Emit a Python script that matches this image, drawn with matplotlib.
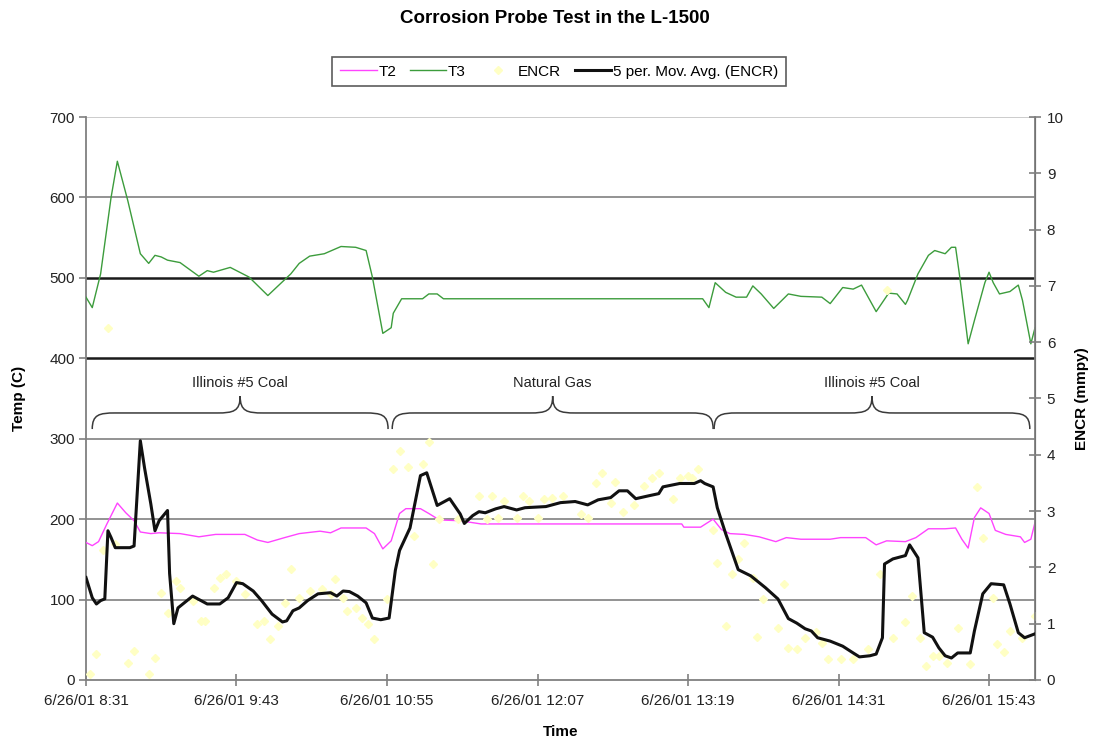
import matplotlib
matplotlib.use("Agg")
import matplotlib.pyplot as plt
from matplotlib.path import Path
from matplotlib.patches import PathPatch
from matplotlib.lines import Line2D

plt.rcParams['font.family'] = ['Liberation Sans', 'DejaVu Sans']

# ---- data (time in minutes after 6/26/01 8:31) ----
t3_time = [0, 3, 7, 12, 15, 20, 26, 30, 33, 36, 39, 45, 54, 58, 61, 69, 78, 87, 98, 102,
           107, 114, 122, 129, 134, 137, 142, 146, 147, 151, 161, 164, 168, 171, 295, 298,
           301, 306, 311, 316, 319, 323, 329, 336, 342, 352, 356, 362, 367, 371, 378, 384,
           388, 392, 393, 398, 403, 406, 411, 414, 416, 418, 422, 425, 430, 432, 434, 437,
           442, 446, 448, 452, 454]
t3_temp = [476, 463, 505, 600, 645, 596, 530, 518, 528, 526, 522, 519, 502, 509, 507, 513,
           501, 478, 505, 518, 527, 530, 539, 538, 534, 501, 431, 438, 456, 474, 474, 480,
           480, 474, 474, 463, 494, 482, 476, 476, 490, 480, 462, 480, 477, 476, 468, 488,
           486, 491, 458, 481, 480, 467, 472, 505, 528, 534, 530, 538, 538, 501, 418, 447,
           494, 507, 494, 480, 483, 491, 472, 418, 438]

t2_time = [0, 3, 6, 10, 15, 19, 23, 26, 31, 35, 45, 54, 62, 76, 82, 87, 95, 102, 112, 117,
           122, 134, 138, 142, 146, 150, 153, 160, 164, 169, 179, 189, 285, 286, 294, 300,
           304, 308, 315, 322, 330, 335, 342, 356, 361, 373, 378, 383, 392, 397, 403, 411,
           416, 419, 422, 425, 428, 432, 435, 440, 447, 449, 452, 454]
t2_temp = [171, 167, 172, 194, 220, 208, 198, 184, 182, 183, 182, 178, 181, 181, 174, 171,
           177, 182, 185, 183, 189, 189, 182, 163, 173, 207, 213, 213, 207, 199, 198, 194,
           194, 190, 190, 200, 187, 182, 181, 178, 172, 177, 175, 175, 177, 177, 168, 173,
           172, 177, 188, 188, 189, 175, 164, 202, 214, 207, 186, 181, 178, 171, 175, 196]

encr_time = [2, 5, 8, 10.5, 14, 20, 23, 30, 33, 36, 39, 43, 45, 51, 55, 57, 61, 64, 67, 72,
             76, 82, 85, 88, 92, 95, 98, 102, 107, 113, 117, 119, 123, 125, 129, 132, 135,
             138, 144, 147, 150, 154, 157, 161, 164, 166, 169, 178, 188, 192, 194, 197, 200,
             206, 209, 212, 216, 219, 223, 228, 237, 240, 244, 247, 251, 253, 257, 262, 267,
             271, 274, 281, 284, 288, 290, 293, 300, 302, 306, 309, 312, 315, 319, 321, 324,
             331, 334, 336, 340, 344, 349, 352, 355, 361, 367, 374, 380, 383, 386, 392, 395,
             399, 402, 405, 408, 412, 417, 423, 426, 429, 434, 436, 439, 442, 448, 454]
encr_rate = [0.11, 0.46, 2.30, 6.26, 2.42, 0.30, 0.52, 0.11, 0.39, 1.55, 1.19, 1.76, 1.64,
             1.41, 1.05, 1.05, 1.64, 1.82, 1.89, 1.76, 1.53, 1.00, 1.05, 0.73, 0.96, 1.37,
             1.98, 1.46, 1.58, 1.62, 1.53, 1.80, 1.46, 1.23, 1.28, 1.10, 1.00, 0.73, 1.44,
             3.75, 4.07, 3.79, 2.56, 3.84, 4.22, 2.06, 2.86, 2.86, 3.27, 2.86, 3.26, 2.88,
             3.18, 2.88, 3.27, 3.18, 2.88, 3.22, 3.24, 3.27, 2.95, 2.88, 3.49, 3.68, 3.15,
             3.51, 2.99, 3.10, 3.45, 3.59, 3.68, 3.22, 3.58, 3.63, 3.59, 3.75, 2.66, 2.08,
             0.96, 1.89, 2.15, 2.44, 1.82, 0.76, 1.43, 0.93, 1.71, 0.57, 0.55, 0.75, 0.85,
             0.66, 0.37, 0.37, 0.37, 0.55, 1.89, 6.92, 0.75, 1.03, 1.49, 0.75, 0.25, 0.43,
             0.43, 0.30, 0.93, 0.28, 3.42, 2.53, 1.46, 0.64, 0.50, 0.87, 0.75, 1.14]

mavg_time = [0, 3, 5, 7, 9, 10.5, 12, 14, 21, 23, 26, 28, 31, 33, 35, 39, 40, 42, 44, 47,
             51, 55, 58, 64, 68, 72, 75, 80, 84, 89, 94, 96, 99, 102, 106, 111, 117, 120,
             123, 126, 130, 134, 137, 141, 145, 148, 150, 155, 160, 163, 168, 174, 179, 181,
             185, 188, 191, 196, 200, 206, 210, 220, 227, 234, 240, 245, 251, 255, 259, 263,
             269, 274, 276, 284, 291, 294, 296, 300, 302, 306, 312, 318, 325, 331, 336, 340,
             344, 347, 350, 356, 362, 367, 370, 375, 378, 381, 382, 386, 392, 394, 398, 401,
             405, 408, 411, 414, 417, 423, 425, 429, 433, 439, 442, 446, 449, 454]
mavg_rate = [1.82, 1.46, 1.35, 1.41, 1.44, 2.65, 2.53, 2.35, 2.35, 2.38, 4.25, 3.77, 3.13,
             2.65, 2.83, 3.01, 1.89, 1.00, 1.28, 1.37, 1.49, 1.41, 1.35, 1.35, 1.46, 1.73,
             1.71, 1.58, 1.41, 1.17, 1.03, 1.05, 1.23, 1.28, 1.41, 1.53, 1.55, 1.49, 1.58,
             1.57, 1.49, 1.37, 1.10, 1.07, 1.10, 1.95, 2.30, 2.70, 3.63, 3.68, 3.10, 3.22,
             2.95, 2.78, 2.92, 2.99, 2.97, 3.04, 3.08, 3.02, 3.06, 3.08, 3.15, 3.17, 3.11,
             3.20, 3.24, 3.36, 3.36, 3.22, 3.27, 3.31, 3.43, 3.49, 3.49, 3.54, 3.49, 3.43,
             3.06, 2.60, 1.96, 1.85, 1.64, 1.44, 1.09, 1.01, 0.91, 0.87, 0.75, 0.69, 0.60,
             0.48, 0.41, 0.43, 0.46, 0.75, 2.06, 2.15, 2.21, 2.40, 2.17, 0.84, 0.76, 0.57,
             0.43, 0.39, 0.48, 0.48, 0.87, 1.53, 1.71, 1.69, 1.35, 0.84, 0.75, 0.82]

tick_minutes = [0, 72, 144, 216, 288, 360, 432]
tick_labels = ["6/26/01 8:31", "6/26/01 9:43", "6/26/01 10:55", "6/26/01 12:07",
               "6/26/01 13:19", "6/26/01 14:31", "6/26/01 15:43"]

# fuel periods: (start, end, label)
periods = [(3, 144.5, "Illinois #5 Coal"),
           (146.5, 300, "Natural Gas"),
           (300.5, 451.5, "Illinois #5 Coal")]

DOT = '#ffffc4'

# ---- figure ----
fig = plt.figure(figsize=(10.94, 7.42), dpi=100)
ax = fig.add_axes([0.0786, 0.0836, 0.8675, 0.7587])
ax2 = ax.twinx()

ax.set_xlim(0, 454)
ax.set_ylim(0, 700)
ax2.set_ylim(0, 10)

# horizontal reference lines
for v in [100, 200, 300, 600]:
    ax.axhline(v, color='#8a8a8a', lw=1.3, zorder=0.5)
for v in [400, 500]:
    ax.axhline(v, color='#1a1a1a', lw=1.8, zorder=0.5)
ax.axhline(700, color='#c8c8c8', lw=1.3, zorder=0.5)

ax.plot(t2_time, t2_temp, color='#ff44ff', lw=1.0, label='T2', zorder=3)
ax.plot(t3_time, t3_temp, color='#3c9c3c', lw=1.0, label='T3', zorder=3)

ax2.plot(encr_time, encr_rate, linestyle='none', marker='D', markersize=4.5,
         markerfacecolor=DOT, markeredgecolor=DOT, label='ENCR', zorder=2)
ax2.plot(mavg_time, mavg_rate, color='#111111', lw=2.2, label='5 per. Mov. Avg. (ENCR)',
         zorder=4)


def brace(axis, x0, x1, y_end, y_bar, y_tip, r):
    xm = (x0 + x1) / 2
    verts = [(x0, y_end), (x0, y_bar - 2), (x0 + r * 0.3, y_bar), (x0 + r, y_bar),
             (xm - r, y_bar),
             (xm - r * 0.3, y_bar), (xm, y_bar + 2), (xm, y_tip),
             (xm, y_bar + 2), (xm + r * 0.3, y_bar), (xm + r, y_bar),
             (x1 - r, y_bar),
             (x1 - r * 0.3, y_bar), (x1, y_bar - 2), (x1, y_end)]
    codes = [Path.MOVETO, Path.CURVE4, Path.CURVE4, Path.CURVE4,
             Path.LINETO,
             Path.CURVE4, Path.CURVE4, Path.CURVE4,
             Path.CURVE4, Path.CURVE4, Path.CURVE4,
             Path.LINETO,
             Path.CURVE4, Path.CURVE4, Path.CURVE4]
    axis.add_patch(PathPatch(Path(verts, codes), fill=False, edgecolor='#3a3a3a',
                             lw=1.1, zorder=2))


for start, end, name in periods:
    brace(ax, start, end, 312, 332, 353, 11)
    ax.text((start + end) / 2, 369, name, ha='center', va='center', fontsize=10.5,
            color='#222222')

# axes styling
ax.spines['top'].set_visible(False)
ax2.spines['top'].set_visible(False)
for sp in ['left', 'bottom']:
    ax.spines[sp].set_color('#808080')
    ax.spines[sp].set_linewidth(1.3)
ax2.spines['right'].set_color('#808080')
ax2.spines['right'].set_linewidth(1.3)
ax2.spines['left'].set_visible(False)
ax2.spines['bottom'].set_visible(False)

ax.set_yticks(range(0, 701, 100))
ax2.set_yticks(range(0, 11))
ax.set_xticks(tick_minutes)
ax.set_xticklabels(tick_labels)

ax.tick_params(axis='y', direction='out', length=5, width=1.2, color='#808080',
               labelsize=11, labelcolor='#222222', pad=3)
ax.tick_params(axis='x', direction='inout', length=8, width=1.2, color='#808080',
               labelsize=11, labelcolor='#222222', pad=6)
ax2.tick_params(axis='y', direction='inout', length=9, width=1.2, color='#808080',
                labelsize=11, labelcolor='#222222', pad=4)

ax.set_ylabel('Temp (C)', fontsize=11, fontweight='bold', labelpad=17)
ax2.set_ylabel('ENCR (mmpy)', fontsize=11, fontweight='bold', labelpad=8)
ax.set_xlabel('Time', fontsize=11, fontweight='bold', labelpad=12)

fig.text(0.507, 0.975, 'Corrosion Probe Test in the L-1500', ha='center', va='center',
         fontsize=13.5, fontweight='bold')

handles = [
    Line2D([], [], color='#ff44ff', lw=1.0),
    Line2D([], [], color='#3c9c3c', lw=1.0),
    Line2D([], [], linestyle='none', marker='D', markersize=4.5,
           markerfacecolor=DOT, markeredgecolor=DOT),
    Line2D([], [], color='#111111', lw=2.2),
]
labels = ['T2', 'T3', 'ENCR', '5 per. Mov. Avg. (ENCR)']
leg = fig.legend(handles, labels, loc='center', bbox_to_anchor=(0.511, 0.9036), ncol=4,
                 fontsize=11, frameon=True, fancybox=False, edgecolor='#333333',
                 handlelength=2.4, handletextpad=0.1, columnspacing=0.9,
                 borderpad=0.5)
leg.get_frame().set_linewidth(1.2)

fig.savefig('out.png', dpi=100)
